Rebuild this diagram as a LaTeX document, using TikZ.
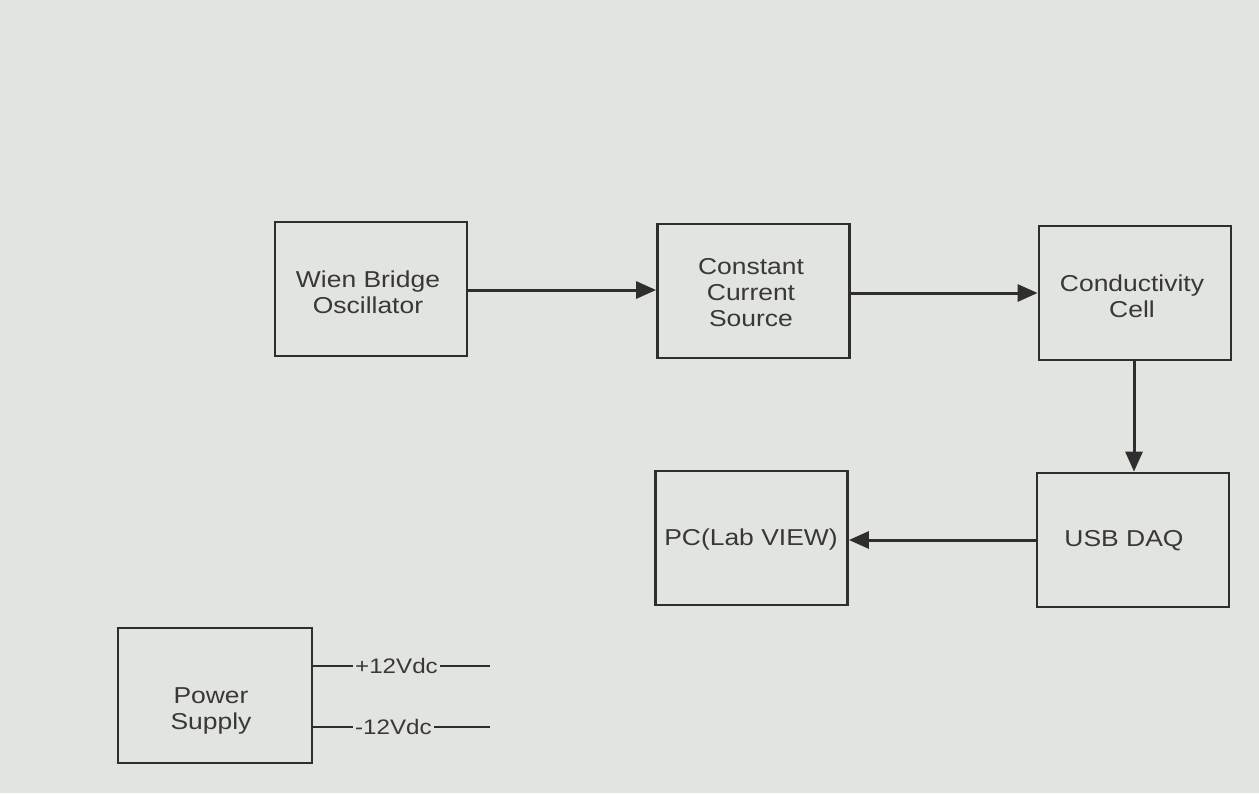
\documentclass[tikz,border=0pt]{standalone}
\usepackage{fontspec}
\setmainfont[FakeStretch=1.15]{Liberation Sans}
\usetikzlibrary{arrows.meta}
\definecolor{bg}{HTML}{E2E4E0}
\definecolor{ink}{HTML}{2E2E2E}
\definecolor{txt}{HTML}{383838}
\tikzset{
  blk/.style={draw=ink, line width=2.8pt, minimum width=192pt, minimum height=134pt, inner sep=0pt},
  lbl/.style={text=txt, font=\fontsize{23}{26}\selectfont, align=center, inner sep=0pt},
  flow/.style={draw=ink, line width=3pt, -{Triangle[length=20pt,width=17pt]}},
  wire/.style={draw=ink, line width=2.4pt},
  vlbl/.style={text=txt, font=\fontsize{21}{24}\selectfont, inner sep=2pt}
}
\begin{document}
\begin{tikzpicture}[x=1pt,y=-1pt]
\fill[bg] (0,0) rectangle (1259,793);
\useasboundingbox (0,0) rectangle (1259,793);
% boxes
\node[blk] (wien) at (371,289) {};
\node[blk] (ccs) at (753.5,291) {};
\node[blk] (cell) at (1135,293) {};
\node[blk] (daq) at (1133,540) {};
\node[blk] (pc) at (751.5,538) {};
\node[blk, minimum width=194pt, minimum height=135pt] (ps) at (215,695.5) {};
% texts
\node[lbl] (twien) at (368,292) {Wien Bridge\\Oscillator};
\node[lbl] (tccs) at (751,293) {Constant\\Current\\Source};
\node[lbl] (tcell) at (1132,296) {Conductivity\\Cell};
\node[lbl] (tdaq) at (1124,541) {USB DAQ};
\node[lbl] (tpc) at (751,540) {PC(Lab VIEW)};
\node[lbl] (tps) at (211,711) {Power\\Supply};
% flow arrows
\draw[flow] (wien.east |- 0,290) -- (ccs.west |- 0,290);
\draw[flow] (ccs.east |- 0,293) -- (cell.west |- 0,293);
\draw[flow] (cell.south -| 1134,0) -- (daq.north -| 1134,0);
\draw[flow] (daq.west |- 0,540) -- (pc.east |- 0,540);
% power supply outputs
\node[vlbl, anchor=west] (vp) at (353,666) {+12Vdc};
\node[vlbl, anchor=west] (vm) at (353,727) {-12Vdc};
\coordinate (vpend) at (490,666);
\coordinate (vmend) at (490,727);
\draw[wire] (ps.east |- vp) -- (vp.west);
\draw[wire] (vp.east) -- (vpend);
\draw[wire] (ps.east |- vm) -- (vm.west);
\draw[wire] (vm.east) -- (vmend);
\end{tikzpicture}
\end{document}
